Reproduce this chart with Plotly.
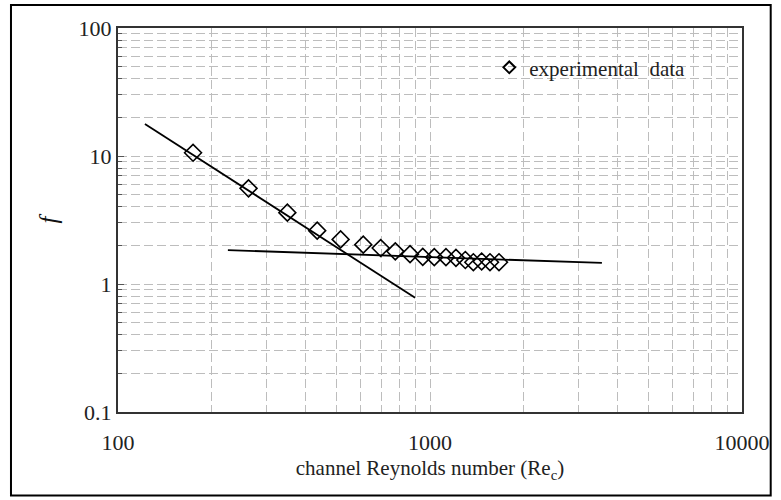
import plotly.graph_objects as go

# Experimental data
re_exp = [174, 262, 349, 435, 517, 611, 695, 774, 863, 948, 1032, 1125, 1211, 1298, 1377, 1464, 1557, 1664]
f_exp = [10.6, 5.59, 3.61, 2.61, 2.23, 2.03, 1.91, 1.80, 1.71, 1.63, 1.62, 1.62, 1.60, 1.54, 1.48, 1.50, 1.48, 1.48]

# Fitted lines
re_lam = [122, 896]
f_lam = [17.8, 0.78]
re_turb = [225, 3556]
f_turb = [1.84, 1.46]

x_tickvals = [100, 1000, 10000]
x_ticktext = ["100", "1000", "10000"]
y_tickvals = [0.1, 1, 10, 100]
y_ticktext = ["0.1", "1", "10", "100"]

FONT = "Liberation Serif, Times New Roman, serif"
GRID = "#bdbdbd"

fig = go.Figure()
fig.add_trace(go.Scatter(x=re_lam, y=f_lam, mode="lines",
                         line=dict(color="black", width=1.8), showlegend=False))
fig.add_trace(go.Scatter(x=re_turb, y=f_turb, mode="lines",
                         line=dict(color="black", width=1.8), showlegend=False))
fig.add_trace(go.Scatter(x=re_exp, y=f_exp, mode="markers", showlegend=False,
                         marker=dict(symbol="diamond-open", size=13, color="black",
                                     line=dict(width=1.6, color="black"))))
# legend entry (smaller symbol, as in the reference)
fig.add_trace(go.Scatter(x=[None], y=[None], mode="markers", name="experimental&nbsp;&nbsp;data",
                         marker=dict(symbol="diamond-open", size=9, color="black",
                                     line=dict(width=2, color="black"))))

axis_common = dict(
    type="log",
    showline=True, linecolor="#333", linewidth=2, mirror=True,
    showgrid=True, gridcolor=GRID, griddash="9px,4px", gridwidth=1,
    zeroline=False,
    tickfont=dict(family=FONT, size=22, color="#222"),
)

fig.update_xaxes(
    **axis_common,
    range=[2, 4],
    tickvals=x_tickvals, ticktext=x_ticktext,
    ticks="", ticklabelstandoff=10,
    minor=dict(showgrid=True, gridcolor=GRID, griddash="9px,4px", gridwidth=1,
               tickvals=[v * d for d in (100, 1000) for v in range(2, 10)], ticks=""),
    title=dict(text="channel Reynolds number (Re<sub>c</sub>)",
               font=dict(family=FONT, size=21, color="#222"), standoff=6),
)
fig.update_yaxes(
    **axis_common,
    range=[-1, 2],
    tickvals=y_tickvals, ticktext=y_ticktext,
    ticks="inside", ticklen=6, tickcolor="#555",
    minor=dict(showgrid=True, gridcolor=GRID, griddash="9px,4px", gridwidth=1,
               tickvals=[v * d for d in (0.1, 1, 10) for v in range(2, 10)],
               ticks="inside", ticklen=4, tickcolor="#555"),
    title=dict(text="<i>f</i>", font=dict(family=FONT, size=25, color="#111"), standoff=14),
)

fig.update_layout(
    width=781, height=500,
    margin=dict(l=118, r=39, t=28, b=88),
    paper_bgcolor="white", plot_bgcolor="white",
    font=dict(family=FONT, color="#222"),
    legend=dict(x=0.595, y=0.95, xanchor="left", yanchor="top",
                bgcolor="rgba(255,255,255,0)", borderwidth=0,
                font=dict(family=FONT, size=21, color="#222"), itemwidth=30),
    shapes=[dict(type="rect", xref="paper", yref="paper",
                 x0=-0.1715, x1=1.046, y0=-0.2175, y1=1.06,
                 line=dict(color="black", width=2), fillcolor="rgba(0,0,0,0)", layer="above")],
)

fig.write_html("out.html")
